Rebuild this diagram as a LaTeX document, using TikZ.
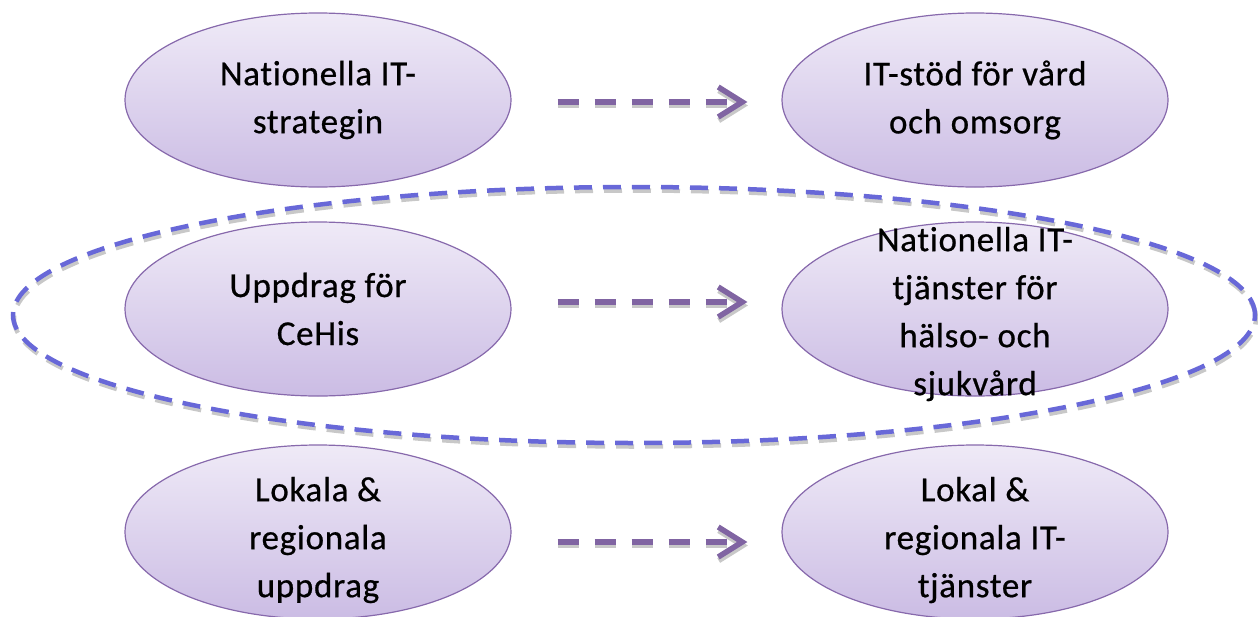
\documentclass[tikz,border=0pt]{standalone}
\usepackage{fontspec}
\setmainfont{Carlito}[LetterSpace=2,FakeBold=0.6,Ligatures=NoCommon,RawFeature={-calt;-clig}]
\usetikzlibrary{shapes.geometric,arrows.meta}

\definecolor{lavtop}{RGB}{239,234,247}
\definecolor{lavbot}{RGB}{203,188,228}
\definecolor{lavline}{RGB}{135,105,172}
\definecolor{flowpurple}{RGB}{128,100,162}
\definecolor{ringblue}{RGB}{104,104,216}
\definecolor{softshadow}{RGB}{200,200,200}

\begin{document}
\begin{tikzpicture}[x=1pt,y=-1pt,
  bubble/.style={ellipse, draw=lavline, line width=1.2pt,
    top color=lavtop, bottom color=lavbot,
    minimum width=386pt, minimum height=174pt, inner sep=0pt},
  caption/.style={align=center, inner sep=0pt,
    font=\fontsize{35}{48}\selectfont},
  flowline/.style={line width=5.5pt, dash pattern=on 21pt off 16pt,
    shorten <=46pt, shorten >=34pt,
    -{Straight Barb[length=24pt,width=30pt]}},
  flow/.style={flowline, draw=flowpurple},
  flowshadow/.style={flowline, draw=softshadow,
    transform canvas={shift={(0.5pt,-3.5pt)}}},
  ringline/.style={line width=4.5pt, dash pattern=on 18pt off 11pt},
]
\useasboundingbox (0,0) rectangle (1258,616);

% six bubbles
\node[bubble] (a1) at (318,100) {};
\node[bubble] (b1) at (975,100) {};
\node[bubble] (a2) at (318,309) {};
\node[bubble] (b2) at (975,309) {};
\node[bubble] (a3) at (318,532) {};
\node[bubble] (b3) at (975,532) {};

% dashed ring round the middle row
\draw[ringline, draw=softshadow, transform canvas={shift={(1pt,-3.5pt)}}]
  (634,315) ellipse [x radius=621pt, y radius=128pt];
\draw[ringline, draw=ringblue] (634,315) ellipse [x radius=621pt, y radius=128pt];

% captions
\node[caption] (a1t) at (a1) {Nationella IT-\\strategin};
\node[caption] (b1t) at (b1) {IT-stöd för vård\\och omsorg};
\node[caption] (a2t) at (a2) {Uppdrag för\\CeHis};
\node[caption] (b2t) at ([yshift=-5pt]b2.center) {Nationella IT-\\tjänster för\\hälso- och\\sjukvård};
\node[caption] (a3t) at ([yshift=-8pt]a3.center) {Lokala \&\\regionala\\uppdrag};
\node[caption] (b3t) at ([yshift=-8pt]b3.center) {Lokal \&\\regionala IT-\\tjänster};

% dashed arrows between the rows
\draw[flowshadow] ([yshift=-2pt]a1.east) -- ([yshift=-2pt]b1.west);
\draw[flow] ([yshift=-2pt]a1.east) -- ([yshift=-2pt]b1.west);
\draw[flowshadow] ([yshift=7pt]a2.east) -- ([yshift=7pt]b2.west);
\draw[flow] ([yshift=7pt]a2.east) -- ([yshift=7pt]b2.west);
\draw[flowshadow] ([yshift=-10pt]a3.east) -- ([yshift=-10pt]b3.west);
\draw[flow] ([yshift=-10pt]a3.east) -- ([yshift=-10pt]b3.west);
\end{tikzpicture}
\end{document}
